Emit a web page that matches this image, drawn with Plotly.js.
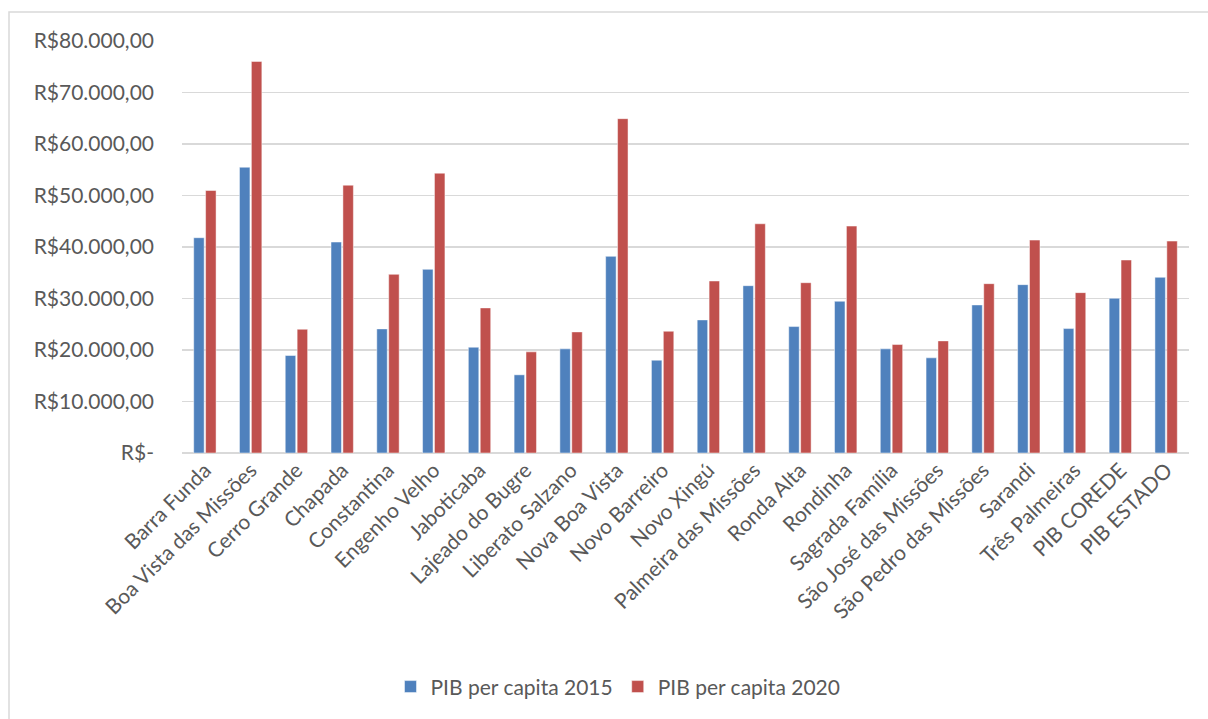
<!DOCTYPE html>
<html>
<head>
<meta charset="utf-8">
<script src="https://cdn.plot.ly/plotly-3.0.1.min.js"></script>
<style>html,body{margin:0;padding:0;background:#fff;}#chart{width:1208px;height:719px;}</style>
</head>
<body>
<div id="chart"></div>
<script>
const categories = ["Barra Funda","Boa Vista das Missões","Cerro Grande","Chapada","Constantina","Engenho Velho","Jaboticaba","Lajeado do Bugre","Liberato Salzano","Nova Boa Vista","Novo Barreiro","Novo Xingú","Palmeira das Missões","Ronda Alta","Rondinha","Sagrada Família","São José das Missões","São Pedro das Missões","Sarandi","Três Palmeiras","PIB COREDE","PIB ESTADO"];
const pib2015 = [41800,55490,18930,40960,24100,35660,20540,15180,20220,38180,18020,25840,32490,24550,29460,20220,18480,28750,32690,24160,30040,34110];
const pib2020 = [50970,76030,24030,52000,34690,54330,28170,19640,23510,64920,23640,33400,44510,33070,44060,21060,21770,32880,41340,31140,37470,41150];
const seriesNames = ["PIB per capita 2015","PIB per capita 2020"];
const yTickVals = [0,10000,20000,30000,40000,50000,60000,70000,80000];
const yTickText = ["R$-","R$10.000,00","R$20.000,00","R$30.000,00","R$40.000,00","R$50.000,00","R$60.000,00","R$70.000,00","R$80.000,00"];

const FONT = "Lato, 'Open Sans', sans-serif";
const TXT = "#595959";
const GRID = "#D9D9D9";
const FS = 21;

const L = 182, R = 19, T = 40.5, B = 719 - 453.5;
const PW = 1208 - L - R, PH = 719 - T - B;
const px = v => (v - L) / PW;
const py = v => (719 - B - v) / PH;

const traces = [
  {type:"bar", name:seriesNames[0], x:categories, y:pib2015,
   marker:{color:"#4F81BD", line:{color:"rgba(255,255,255,0.6)", width:0.8}}},
  {type:"bar", name:seriesNames[1], x:categories, y:pib2020,
   marker:{color:"#C0504D", line:{color:"rgba(255,255,255,0.6)", width:0.8}}}
];

const layout = {
  width:1208, height:719,
  margin:{l:L, r:R, t:T, b:B, pad:0},
  paper_bgcolor:"#fff", plot_bgcolor:"#fff",
  font:{family:FONT, size:FS, color:TXT},
  barmode:"group", bargap:0.48, bargroupgap:0.12,
  showlegend:true,
  legend:{orientation:"h", x:px(618), xanchor:"center", y:py(688), yanchor:"middle",
          font:{family:FONT, size:FS, color:TXT}, traceorder:"normal"},
  xaxis:{type:"category", tickangle:-45, showgrid:false, showline:false, ticks:"",
         tickfont:{family:FONT, size:FS, color:TXT}, automargin:false},
  yaxis:{range:[0,80000], tickvals:yTickVals, ticktext:yTickText,
         showgrid:true, gridcolor:GRID, gridwidth:1.5, zeroline:true, zerolinecolor:GRID, zerolinewidth:1.5,
         showline:false, ticks:"", ticklabelstandoff:27,
         tickfont:{family:FONT, size:FS, color:TXT}, automargin:false, fixedrange:true},
  shapes:[
    {type:"rect", xref:"paper", yref:"paper", x0:px(9), x1:px(1220), y0:py(730), y1:py(11.5),
     line:{color:GRID, width:1.5}, fillcolor:"rgba(0,0,0,0)", layer:"below"}
  ]
};

Plotly.newPlot("chart", traces, layout, {displayModeBar:false, staticPlot:true});
</script>
</body>
</html>
